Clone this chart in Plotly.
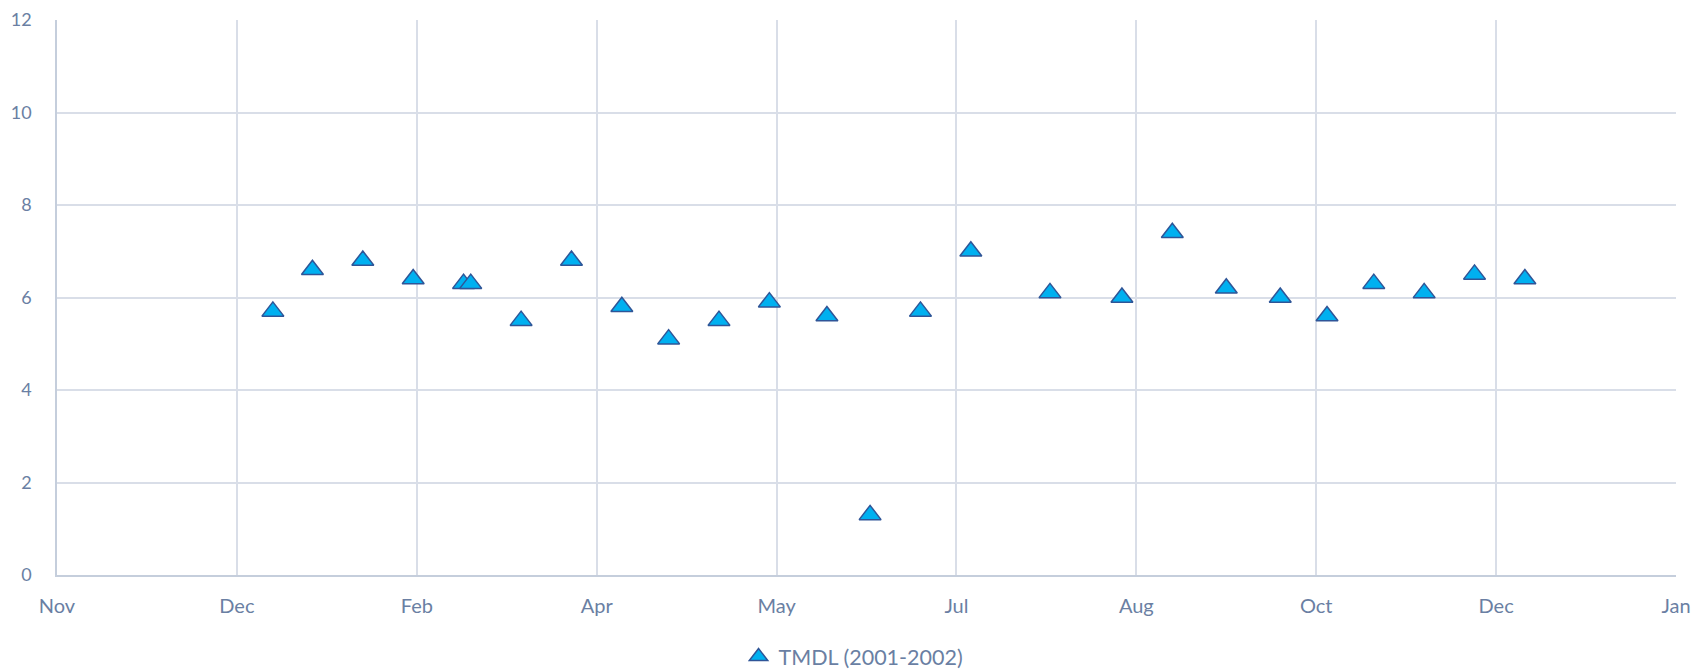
import plotly.graph_objects as go

dates = ["2002-01-02", "2002-01-13", "2002-01-27", "2002-02-10", "2002-02-24", "2002-02-26",
         "2002-03-12", "2002-03-26", "2002-04-09", "2002-04-22", "2002-05-06", "2002-05-20",
         "2002-06-05", "2002-06-17", "2002-07-01", "2002-07-15", "2002-08-06", "2002-08-26",
         "2002-09-09", "2002-09-24", "2002-10-09", "2002-10-22", "2002-11-04", "2002-11-18",
         "2002-12-02", "2002-12-16"]
values = [5.7, 6.6, 6.8, 6.4, 6.3, 6.3,
          5.5, 6.8, 5.8, 5.1, 5.5, 5.9,
          5.6, 1.3, 5.7, 7.0, 6.1, 6.0,
          7.4, 6.2, 6.0, 5.6, 6.3, 6.1,
          6.5, 6.4]
series_name = "TMDL (2001-2002)"
x_start = "2001-11-03"
x_end = "2003-01-27"
x_step_days = 50

text_color = "#6A7FA3"
grid_color = "#D9DEE8"
axis_color = "#C5CEDC"
font_family = "Lato, Open Sans, sans-serif"

fig = go.Figure()
fig.add_trace(go.Scatter(
    x=dates, y=values, mode="markers", name=series_name,
    marker=dict(symbol="triangle-up", size=19, color="#00B0F0",
                line=dict(color="#2F5597", width=1.5)),
    showlegend=True,
))

fig.update_layout(
    width=1699, height=663,
    margin=dict(l=49, r=31, t=12, b=96, autoexpand=False),
    paper_bgcolor="white", plot_bgcolor="white",
    font=dict(family=font_family, size=20, color=text_color),
    showlegend=True,
    legend=dict(orientation="h", x=0.492, xanchor="center", y=-0.147, yanchor="middle",
                itemwidth=30, font=dict(size=21.5, color=text_color)),
    xaxis=dict(
        type="date", range=[x_start, x_end], tick0=x_start,
        dtick=x_step_days * 86400000, tickformat="%b",
        showgrid=True, gridcolor=grid_color, gridwidth=1.5,
        showline=True, linecolor=axis_color, linewidth=1.5, mirror=False,
        ticks="", ticklabelstandoff=12, zeroline=False, automargin=False,
        ticklabeloverflow="allow",
    ),
    yaxis=dict(
        range=[0, 12], dtick=2, tick0=0,
        showgrid=True, gridcolor=grid_color, gridwidth=1.5,
        showline=True, linecolor=axis_color, linewidth=1.5,
        ticks="", ticklabelstandoff=20, zeroline=False, automargin=False,
        ticklabeloverflow="allow", tickfont=dict(size=18),
    ),
)
fig.write_html("out.html")
